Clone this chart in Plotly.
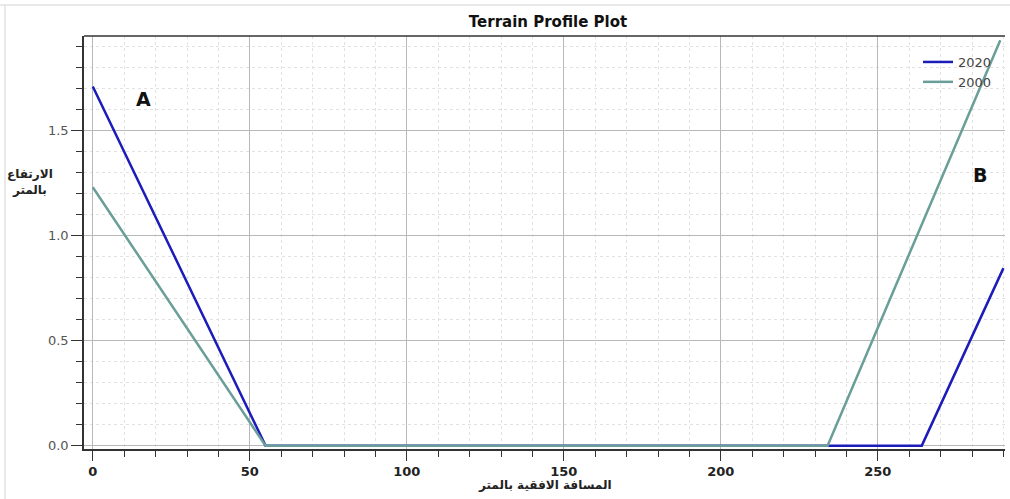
import plotly.graph_objects as go

# Data
x_2020 = [0, 55, 264, 290]
y_2020 = [1.71, 0.0, 0.0, 0.845]
x_2000 = [0, 55, 234, 289]
y_2000 = [1.23, 0.0, 0.0, 1.93]
x_ticks = [0, 50, 100, 150, 200, 250]
y_ticks = [0.0, 0.5, 1.0, 1.5]
y_tick_text = ["0.0", "0.5", "1.0", "1.5"]

L, R, T, B = 84, 5, 36, 50
W, H = 1010, 499
pw, ph = W - L - R, H - T - B

def px(xp):
    return (xp - L) / pw

def py(yp):
    return (H - B - yp) / ph

fig = go.Figure()
fig.add_trace(go.Scatter(x=x_2020, y=y_2020, mode="lines", name="2020",
                         line=dict(color="#1c1cb8", width=2.5)))
fig.add_trace(go.Scatter(x=x_2000, y=y_2000, mode="lines", name="2000",
                         line=dict(color="#6a9e98", width=2.5)))

fig.update_layout(
    width=W, height=H,
    margin=dict(l=L, r=R, t=T, b=B),
    paper_bgcolor="white", plot_bgcolor="white",
    font=dict(family="DejaVu Sans, Arial, sans-serif", color="#333"),
    title=dict(text="<b>Terrain Profile Plot</b>", x=(548) / W, xanchor="center",
               y=1 - 22 / H, yanchor="middle",
               font=dict(size=15, color="#111", family="DejaVu Sans, Arial")),
    showlegend=True,
    legend=dict(x=px(918), y=py(47), xanchor="left", yanchor="top",
                bgcolor="rgba(0,0,0,0)", font=dict(size=13, color="#444"),
                tracegroupgap=0, itemwidth=30),
)

fig.update_xaxes(
    range=[-2.8, 290.5], tickvals=x_ticks, ticks="outside", ticklen=10,
    tickcolor="#333", tickwidth=1.3,
    showline=True, linecolor="#333", linewidth=1.5,
    showgrid=True, gridcolor="#b8b8b8", gridwidth=1, zeroline=False,
    tickfont=dict(size=13, color="#222", family="DejaVu Sans", weight="bold"),
    minor=dict(dtick=10, tick0=0, ticks="outside", ticklen=6, tickcolor="#333",
               showgrid=True, gridcolor="#e2e2e2", griddash="3px,3px", gridwidth=1),
)
fig.update_yaxes(
    range=[-0.016, 1.95], tickvals=y_ticks, ticktext=y_tick_text,
    ticks="outside", ticklen=11, tickcolor="#333", tickwidth=1.3,
    showline=True, linecolor="#333", linewidth=1.5,
    showgrid=True, gridcolor="#b8b8b8", gridwidth=1, zeroline=False,
    tickfont=dict(size=13, color="#555", family="DejaVu Sans"),
    minor=dict(dtick=0.1, tick0=0, ticks="outside", ticklen=6, tickcolor="#333",
               showgrid=True, gridcolor="#e2e2e2", griddash="3px,3px", gridwidth=1),
)

# Top axis border line
fig.add_shape(type="line", xref="paper", yref="paper", x0=0, x1=1, y0=1, y1=1,
              line=dict(color="#333", width=1.5))
# Faint outer frame
fig.add_shape(type="line", xref="paper", yref="paper", x0=px(0), x1=px(W), y0=py(5), y1=py(5),
              line=dict(color="#e2e2e2", width=1.5))
fig.add_shape(type="line", xref="paper", yref="paper", x0=px(5), x1=px(5), y0=py(5), y1=py(H),
              line=dict(color="#e2e2e2", width=1.5))

# Axis titles
fig.add_annotation(text="<b>الارتفاع<br>بالمتر</b>", xref="paper", yref="paper",
                   x=px(30), y=py(182), xanchor="center", yanchor="middle", showarrow=False,
                   font=dict(size=12, color="#222", family="DejaVu Sans"), align="center")
fig.add_annotation(text="<b>المسافة الافقية بالمتر</b>", xref="paper", yref="paper",
                   x=px(545), y=py(485), xanchor="center", yanchor="middle", showarrow=False,
                   font=dict(size=12, color="#222", family="DejaVu Sans"))

# Labels A and B
fig.add_annotation(text="<b>A</b>", xref="paper", yref="paper", x=px(143), y=py(99),
                   xanchor="center", yanchor="middle",
                   showarrow=False, font=dict(size=19, color="#111", family="DejaVu Sans"))
fig.add_annotation(text="<b>B</b>", xref="paper", yref="paper", x=px(980), y=py(175),
                   xanchor="center", yanchor="middle",
                   showarrow=False, font=dict(size=19, color="#111", family="DejaVu Sans"))

fig.write_html("out.html")
